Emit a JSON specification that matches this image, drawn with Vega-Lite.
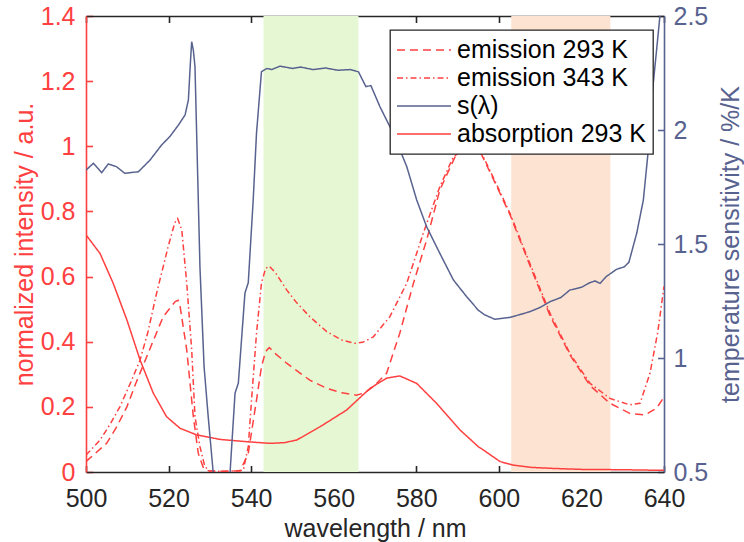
{
  "$schema": "https://vega.github.io/schema/vega-lite/v6.json",
  "width": 578,
  "height": 456,
  "autosize": {"type": "none"},
  "padding": {"left": 86, "top": 16, "right": 80, "bottom": 70},
  "background": "white",
  "config": {
    "view": {"stroke": null},
    "font": "Liberation Sans",
    "axis": {
      "grid": true,
      "gridDash": [6.5, 2000],
      "gridWidth": 1.6,
      "gridOpacity": 1,
      "labelFont": "Liberation Sans",
      "titleFont": "Liberation Sans",
      "labelFontSize": 25,
      "titleFontSize": 25,
      "titleFontWeight": "normal",
      "ticks": false,
      "tickSize": 0,
      "domainWidth": 1.6,
      "labelFlush": false,
      "labelOverlap": false,
      "zindex": 1
    },
    "legend": {
      "orient": "none",
      "legendX": 304,
      "legendY": 14,
      "direction": "vertical",
      "strokeColor": "#262626",
      "strokeWidth": 1.3,
      "fillColor": "white",
      "padding": 6,
      "labelFont": "Liberation Sans",
      "labelFontSize": 25,
      "labelColor": "#000000",
      "labelOffset": 5,
      "labelLimit": 400,
      "symbolType": "stroke",
      "symbolSize": 2916,
      "symbolStrokeWidth": 1.5,
      "clipHeight": 28,
      "rowPadding": 0,
      "zindex": 2
    }
  },
  "datasets": {
    "bands": [
      {"band": "A", "start": 543, "end": 566},
      {"band": "B", "start": 603, "end": 627}
    ],
    "curves": [
      {"series": "emission 293 K", "wl": 500, "v": 0.032},
      {"series": "emission 293 K", "wl": 505, "v": 0.088},
      {"series": "emission 293 K", "wl": 507.5, "v": 0.14},
      {"series": "emission 293 K", "wl": 509.9, "v": 0.2},
      {"series": "emission 293 K", "wl": 512, "v": 0.27},
      {"series": "emission 293 K", "wl": 514.7, "v": 0.354},
      {"series": "emission 293 K", "wl": 518.7, "v": 0.477},
      {"series": "emission 293 K", "wl": 521.6, "v": 0.523},
      {"series": "emission 293 K", "wl": 522.3, "v": 0.527},
      {"series": "emission 293 K", "wl": 522.8, "v": 0.508},
      {"series": "emission 293 K", "wl": 524.4, "v": 0.375},
      {"series": "emission 293 K", "wl": 526, "v": 0.17},
      {"series": "emission 293 K", "wl": 527.2, "v": 0.057},
      {"series": "emission 293 K", "wl": 528.5, "v": 0.01},
      {"series": "emission 293 K", "wl": 530, "v": 0.002},
      {"series": "emission 293 K", "wl": 537.3, "v": 0.003},
      {"series": "emission 293 K", "wl": 539.3, "v": 0.057},
      {"series": "emission 293 K", "wl": 541.3, "v": 0.221},
      {"series": "emission 293 K", "wl": 542.5, "v": 0.323},
      {"series": "emission 293 K", "wl": 543.5, "v": 0.37},
      {"series": "emission 293 K", "wl": 544.4, "v": 0.382},
      {"series": "emission 293 K", "wl": 546, "v": 0.362},
      {"series": "emission 293 K", "wl": 548.6, "v": 0.334},
      {"series": "emission 293 K", "wl": 554.2, "v": 0.282},
      {"series": "emission 293 K", "wl": 558.3, "v": 0.257},
      {"series": "emission 293 K", "wl": 562, "v": 0.243},
      {"series": "emission 293 K", "wl": 565.5, "v": 0.236},
      {"series": "emission 293 K", "wl": 567.5, "v": 0.243},
      {"series": "emission 293 K", "wl": 569.6, "v": 0.262},
      {"series": "emission 293 K", "wl": 572.8, "v": 0.303},
      {"series": "emission 293 K", "wl": 576, "v": 0.426},
      {"series": "emission 293 K", "wl": 579.3, "v": 0.579},
      {"series": "emission 293 K", "wl": 582.5, "v": 0.712},
      {"series": "emission 293 K", "wl": 585.7, "v": 0.866},
      {"series": "emission 293 K", "wl": 589.8, "v": 0.979},
      {"series": "emission 293 K", "wl": 592.8, "v": 1.0},
      {"series": "emission 293 K", "wl": 595.8, "v": 0.975},
      {"series": "emission 293 K", "wl": 599, "v": 0.89},
      {"series": "emission 293 K", "wl": 602.7, "v": 0.79},
      {"series": "emission 293 K", "wl": 607.5, "v": 0.635},
      {"series": "emission 293 K", "wl": 612.4, "v": 0.48},
      {"series": "emission 293 K", "wl": 617.2, "v": 0.36},
      {"series": "emission 293 K", "wl": 622.1, "v": 0.265},
      {"series": "emission 293 K", "wl": 626.9, "v": 0.211},
      {"series": "emission 293 K", "wl": 631.7, "v": 0.18},
      {"series": "emission 293 K", "wl": 635.4, "v": 0.175},
      {"series": "emission 293 K", "wl": 638.2, "v": 0.196},
      {"series": "emission 293 K", "wl": 640, "v": 0.23},

      {"series": "emission 343 K", "wl": 500, "v": 0.052},
      {"series": "emission 343 K", "wl": 503.4, "v": 0.098},
      {"series": "emission 343 K", "wl": 506, "v": 0.15},
      {"series": "emission 343 K", "wl": 508.2, "v": 0.2},
      {"series": "emission 343 K", "wl": 511, "v": 0.28},
      {"series": "emission 343 K", "wl": 513.1, "v": 0.344},
      {"series": "emission 343 K", "wl": 515, "v": 0.43},
      {"series": "emission 343 K", "wl": 517.1, "v": 0.549},
      {"series": "emission 343 K", "wl": 519.9, "v": 0.692},
      {"series": "emission 343 K", "wl": 521.5, "v": 0.765},
      {"series": "emission 343 K", "wl": 522.2, "v": 0.778},
      {"series": "emission 343 K", "wl": 523.2, "v": 0.743},
      {"series": "emission 343 K", "wl": 524.4, "v": 0.58},
      {"series": "emission 343 K", "wl": 525.6, "v": 0.375},
      {"series": "emission 343 K", "wl": 526.4, "v": 0.17},
      {"series": "emission 343 K", "wl": 527.6, "v": 0.078},
      {"series": "emission 343 K", "wl": 528.8, "v": 0.016},
      {"series": "emission 343 K", "wl": 530, "v": 0.003},
      {"series": "emission 343 K", "wl": 534, "v": 0.002},
      {"series": "emission 343 K", "wl": 538.1, "v": 0.005},
      {"series": "emission 343 K", "wl": 539.3, "v": 0.078},
      {"series": "emission 343 K", "wl": 540.1, "v": 0.221},
      {"series": "emission 343 K", "wl": 541.3, "v": 0.426},
      {"series": "emission 343 K", "wl": 542.5, "v": 0.58},
      {"series": "emission 343 K", "wl": 543.5, "v": 0.625},
      {"series": "emission 343 K", "wl": 544.4, "v": 0.632},
      {"series": "emission 343 K", "wl": 546, "v": 0.61},
      {"series": "emission 343 K", "wl": 548.6, "v": 0.559},
      {"series": "emission 343 K", "wl": 551, "v": 0.52},
      {"series": "emission 343 K", "wl": 554.2, "v": 0.477},
      {"series": "emission 343 K", "wl": 558.3, "v": 0.431},
      {"series": "emission 343 K", "wl": 562, "v": 0.405},
      {"series": "emission 343 K", "wl": 565.1, "v": 0.395},
      {"series": "emission 343 K", "wl": 567, "v": 0.398},
      {"series": "emission 343 K", "wl": 569.6, "v": 0.415},
      {"series": "emission 343 K", "wl": 573.6, "v": 0.477},
      {"series": "emission 343 K", "wl": 577.7, "v": 0.58},
      {"series": "emission 343 K", "wl": 581.7, "v": 0.733},
      {"series": "emission 343 K", "wl": 585.7, "v": 0.876},
      {"series": "emission 343 K", "wl": 589, "v": 0.968},
      {"series": "emission 343 K", "wl": 592.5, "v": 1.0},
      {"series": "emission 343 K", "wl": 595.8, "v": 0.979},
      {"series": "emission 343 K", "wl": 599, "v": 0.895},
      {"series": "emission 343 K", "wl": 602.7, "v": 0.794},
      {"series": "emission 343 K", "wl": 607.5, "v": 0.641},
      {"series": "emission 343 K", "wl": 612.4, "v": 0.487},
      {"series": "emission 343 K", "wl": 617.2, "v": 0.364},
      {"series": "emission 343 K", "wl": 622.1, "v": 0.272},
      {"series": "emission 343 K", "wl": 626.9, "v": 0.226},
      {"series": "emission 343 K", "wl": 631.7, "v": 0.206},
      {"series": "emission 343 K", "wl": 634.2, "v": 0.211},
      {"series": "emission 343 K", "wl": 636.6, "v": 0.303},
      {"series": "emission 343 K", "wl": 638.5, "v": 0.43},
      {"series": "emission 343 K", "wl": 640, "v": 0.57},

      {"series": "absorption 293 K", "wl": 500, "v": 0.728},
      {"series": "absorption 293 K", "wl": 503.4, "v": 0.671},
      {"series": "absorption 293 K", "wl": 506.6, "v": 0.579},
      {"series": "absorption 293 K", "wl": 509.9, "v": 0.467},
      {"series": "absorption 293 K", "wl": 513.1, "v": 0.344},
      {"series": "absorption 293 K", "wl": 516.3, "v": 0.242},
      {"series": "absorption 293 K", "wl": 519.5, "v": 0.17},
      {"series": "absorption 293 K", "wl": 522.8, "v": 0.134},
      {"series": "absorption 293 K", "wl": 526.8, "v": 0.114},
      {"series": "absorption 293 K", "wl": 532.5, "v": 0.1},
      {"series": "absorption 293 K", "wl": 538.9, "v": 0.093},
      {"series": "absorption 293 K", "wl": 544.6, "v": 0.088},
      {"series": "absorption 293 K", "wl": 548, "v": 0.09},
      {"series": "absorption 293 K", "wl": 551, "v": 0.098},
      {"series": "absorption 293 K", "wl": 556.7, "v": 0.139},
      {"series": "absorption 293 K", "wl": 563.1, "v": 0.19},
      {"series": "absorption 293 K", "wl": 568.8, "v": 0.257},
      {"series": "absorption 293 K", "wl": 572.8, "v": 0.288},
      {"series": "absorption 293 K", "wl": 576, "v": 0.295},
      {"series": "absorption 293 K", "wl": 580.1, "v": 0.272},
      {"series": "absorption 293 K", "wl": 584.9, "v": 0.211},
      {"series": "absorption 293 K", "wl": 590.6, "v": 0.129},
      {"series": "absorption 293 K", "wl": 595, "v": 0.078},
      {"series": "absorption 293 K", "wl": 596.2, "v": 0.068},
      {"series": "absorption 293 K", "wl": 600.3, "v": 0.032},
      {"series": "absorption 293 K", "wl": 603.5, "v": 0.021},
      {"series": "absorption 293 K", "wl": 608, "v": 0.014},
      {"series": "absorption 293 K", "wl": 613.2, "v": 0.011},
      {"series": "absorption 293 K", "wl": 620, "v": 0.008},
      {"series": "absorption 293 K", "wl": 630, "v": 0.007},
      {"series": "absorption 293 K", "wl": 640, "v": 0.005},

      {"series": "s(λ)", "wl": 500, "v": 1.824},
      {"series": "s(λ)", "wl": 501.8, "v": 1.854},
      {"series": "s(λ)", "wl": 503, "v": 1.83},
      {"series": "s(λ)", "wl": 503.8, "v": 1.813},
      {"series": "s(λ)", "wl": 505.4, "v": 1.851},
      {"series": "s(λ)", "wl": 507.4, "v": 1.839},
      {"series": "s(λ)", "wl": 509.4, "v": 1.81},
      {"series": "s(λ)", "wl": 512.7, "v": 1.817},
      {"series": "s(λ)", "wl": 515.5, "v": 1.868},
      {"series": "s(λ)", "wl": 518.3, "v": 1.934},
      {"series": "s(λ)", "wl": 520.3, "v": 1.971},
      {"series": "s(λ)", "wl": 522.4, "v": 2.022},
      {"series": "s(λ)", "wl": 524, "v": 2.066},
      {"series": "s(λ)", "wl": 524.8, "v": 2.132},
      {"series": "s(λ)", "wl": 525.3, "v": 2.3},
      {"series": "s(λ)", "wl": 525.6, "v": 2.387},
      {"series": "s(λ)", "wl": 526, "v": 2.35},
      {"series": "s(λ)", "wl": 526.4, "v": 2.278},
      {"series": "s(λ)", "wl": 527, "v": 1.839},
      {"series": "s(λ)", "wl": 527.6, "v": 1.4},
      {"series": "s(λ)", "wl": 528.6, "v": 0.962},
      {"series": "s(λ)", "wl": 529.6, "v": 0.743},
      {"series": "s(λ)", "wl": 530.8, "v": 0.5},
      {"series": "s(λ)", "wl": 531.5, "v": 0.3},
      {"series": "s(λ)", "wl": 534.3, "v": 0.3},
      {"series": "s(λ)", "wl": 534.9, "v": 0.5},
      {"series": "s(λ)", "wl": 536.1, "v": 0.846},
      {"series": "s(λ)", "wl": 536.9, "v": 0.89},
      {"series": "s(λ)", "wl": 538.5, "v": 1.285},
      {"series": "s(λ)", "wl": 539.3, "v": 1.33},
      {"series": "s(λ)", "wl": 540.5, "v": 1.693},
      {"series": "s(λ)", "wl": 541.3, "v": 1.986},
      {"series": "s(λ)", "wl": 542.5, "v": 2.256},
      {"series": "s(λ)", "wl": 543.8, "v": 2.27},
      {"series": "s(λ)", "wl": 545, "v": 2.265},
      {"series": "s(λ)", "wl": 547, "v": 2.28},
      {"series": "s(λ)", "wl": 550, "v": 2.27},
      {"series": "s(λ)", "wl": 552, "v": 2.276},
      {"series": "s(λ)", "wl": 555, "v": 2.265},
      {"series": "s(λ)", "wl": 558, "v": 2.272},
      {"series": "s(λ)", "wl": 561, "v": 2.262},
      {"series": "s(λ)", "wl": 564, "v": 2.265},
      {"series": "s(λ)", "wl": 566, "v": 2.255},
      {"series": "s(λ)", "wl": 567.8, "v": 2.19},
      {"series": "s(λ)", "wl": 569, "v": 2.195},
      {"series": "s(λ)", "wl": 571.2, "v": 2.102},
      {"series": "s(λ)", "wl": 574.4, "v": 1.986},
      {"series": "s(λ)", "wl": 577.7, "v": 1.839},
      {"series": "s(λ)", "wl": 580.1, "v": 1.693},
      {"series": "s(λ)", "wl": 582.5, "v": 1.576},
      {"series": "s(λ)", "wl": 585.7, "v": 1.459},
      {"series": "s(λ)", "wl": 589, "v": 1.342},
      {"series": "s(λ)", "wl": 592.2, "v": 1.269},
      {"series": "s(λ)", "wl": 595, "v": 1.21},
      {"series": "s(λ)", "wl": 596.5, "v": 1.19},
      {"series": "s(λ)", "wl": 599, "v": 1.17},
      {"series": "s(λ)", "wl": 602.7, "v": 1.178},
      {"series": "s(λ)", "wl": 605, "v": 1.19},
      {"series": "s(λ)", "wl": 607.5, "v": 1.203},
      {"series": "s(λ)", "wl": 610, "v": 1.222},
      {"series": "s(λ)", "wl": 612.4, "v": 1.247},
      {"series": "s(λ)", "wl": 615, "v": 1.265},
      {"series": "s(λ)", "wl": 617.2, "v": 1.298},
      {"series": "s(λ)", "wl": 620, "v": 1.31},
      {"series": "s(λ)", "wl": 622, "v": 1.33},
      {"series": "s(λ)", "wl": 623.3, "v": 1.338},
      {"series": "s(λ)", "wl": 624.5, "v": 1.327},
      {"series": "s(λ)", "wl": 626, "v": 1.357},
      {"series": "s(λ)", "wl": 628.5, "v": 1.389},
      {"series": "s(λ)", "wl": 630.4, "v": 1.4},
      {"series": "s(λ)", "wl": 631.5, "v": 1.42},
      {"series": "s(λ)", "wl": 633.4, "v": 1.548},
      {"series": "s(λ)", "wl": 635, "v": 1.693},
      {"series": "s(λ)", "wl": 636.2, "v": 1.912},
      {"series": "s(λ)", "wl": 637, "v": 2.132},
      {"series": "s(λ)", "wl": 638.2, "v": 2.35},
      {"series": "s(λ)", "wl": 639, "v": 2.497},
      {"series": "s(λ)", "wl": 639.5, "v": 2.6}
    ]
  },
  "layer": [
    {
      "data": {"name": "bands"},
      "mark": {"type": "rect"},
      "encoding": {
        "x": {
          "field": "start",
          "type": "quantitative",
          "scale": {"domain": [500, 640], "nice": false},
          "axis": {
            "orient": "top",
            "labels": false,
            "title": null,
            "domain": true,
            "domainColor": "#262626",
            "grid": true,
            "gridColor": "#262626",
            "values": [500, 520, 540, 560, 580, 600, 620, 640]
          }
        },
        "x2": {"field": "end"},
        "fill": {
          "field": "band",
          "type": "nominal",
          "scale": {"domain": ["A", "B"], "range": ["#e6f8d3", "#fde4d2"]},
          "legend": null
        }
      }
    },
    {
      "data": {"name": "bands"},
      "mark": {"type": "rect", "opacity": 0},
      "encoding": {
        "x": {
          "field": "start",
          "type": "quantitative",
          "scale": {"domain": [500, 640], "nice": false},
          "axis": {
            "orient": "bottom",
            "title": "wavelength / nm",
            "values": [500, 520, 540, 560, 580, 600, 620, 640],
            "domain": true,
            "domainColor": "#262626",
            "grid": true,
            "gridColor": "#262626",
            "labelColor": "#262626",
            "titleColor": "#262626",
            "labelPadding": 14,
            "titlePadding": 5
          }
        },
        "x2": {"field": "end"}
      }
    },
    {
      "data": {"name": "curves"},
      "transform": [{"filter": "datum.series !== 's(λ)'"}],
      "mark": {"type": "line", "strokeWidth": 1.5, "clip": true},
      "encoding": {
        "x": {
          "field": "wl",
          "type": "quantitative",
          "scale": {"domain": [500, 640], "nice": false},
          "axis": null
        },
        "y": {
          "field": "v",
          "type": "quantitative",
          "scale": {"domain": [0, 1.4], "nice": false, "zero": false},
          "axis": {
            "orient": "left",
            "title": "normalized intensity / a.u.",
            "values": [0, 0.2, 0.4, 0.6, 0.8, 1, 1.2, 1.4],
            "format": "~g",
            "domain": true,
            "domainColor": "#ff4040",
            "grid": true,
            "gridColor": "#ff4040",
            "labelColor": "#ff4040",
            "titleColor": "#ff4040",
            "labelPadding": 11,
            "titlePadding": 3
          }
        },
        "color": {
          "field": "series",
          "type": "nominal",
          "sort": null,
          "scale": {
            "domain": ["emission 293 K", "emission 343 K", "s(λ)", "absorption 293 K"],
            "range": ["#ff4040", "#ff4040", "#58628f", "#ff4040"]
          },
          "legend": {"title": null}
        },
        "strokeDash": {
          "field": "series",
          "type": "nominal",
          "sort": null,
          "scale": {
            "domain": ["emission 293 K", "emission 343 K", "s(λ)", "absorption 293 K"],
            "range": [[8, 5], [6, 3, 1.5, 3], [1, 0], [1, 0]]
          },
          "legend": {"title": null}
        }
      }
    },
    {
      "data": {"name": "curves"},
      "transform": [{"filter": "datum.series === 's(λ)'"}],
      "mark": {"type": "line", "strokeWidth": 1.5, "clip": true},
      "encoding": {
        "x": {"field": "wl", "type": "quantitative", "scale": {"domain": [500, 640], "nice": false}, "axis": null},
        "y": {
          "field": "v",
          "type": "quantitative",
          "scale": {"domain": [0.5, 2.5], "nice": false, "zero": false},
          "axis": {
            "orient": "right",
            "title": "temperature sensitivity / %/K",
            "values": [0.5, 1, 1.5, 2, 2.5],
            "format": "~g",
            "domain": true,
            "domainColor": "#58628f",
            "grid": true,
            "gridColor": "#58628f",
            "labelColor": "#58628f",
            "titleColor": "#58628f",
            "labelPadding": 9,
            "titleAngle": 270,
            "titleBaseline": "top",
            "titlePadding": 11
          }
        },
        "color": {
          "field": "series",
          "type": "nominal",
          "sort": null,
          "scale": {
            "domain": ["emission 293 K", "emission 343 K", "s(λ)", "absorption 293 K"],
            "range": ["#ff4040", "#ff4040", "#58628f", "#ff4040"]
          },
          "legend": {"title": null}
        },
        "strokeDash": {
          "field": "series",
          "type": "nominal",
          "sort": null,
          "scale": {
            "domain": ["emission 293 K", "emission 343 K", "s(λ)", "absorption 293 K"],
            "range": [[8, 5], [6, 3, 1.5, 3], [1, 0], [1, 0]]
          },
          "legend": {"title": null}
        }
      }
    }
  ],
  "resolve": {
    "scale": {"y": "independent"},
    "axis": {"x": "independent", "y": "independent"}
  }
}
